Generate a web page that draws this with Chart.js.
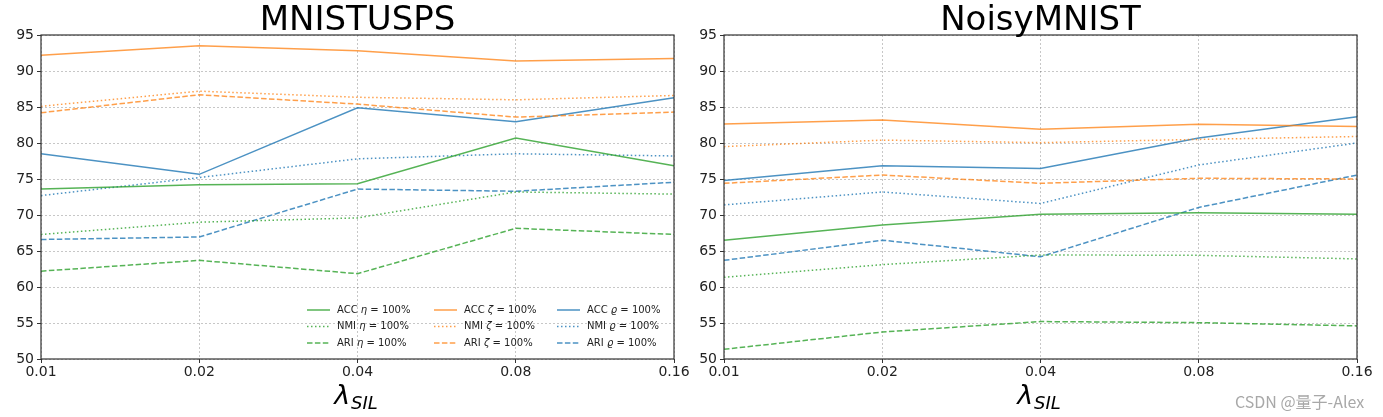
<!DOCTYPE html>
<html>
<head>
<meta charset="utf-8">
<script src="https://cdn.jsdelivr.net/npm/chart.js@4.4.0/dist/chart.umd.min.js"></script>
<style>
  html, body { margin: 0; padding: 0; background: #fff; }
  #wrap { position: relative; width: 1383px; height: 417px; overflow: hidden; }
  .pane { position: absolute; top: 0; height: 417px; }
  #mark { position: absolute; left: 1235px; top: 389px; font: 16px "Noto Sans CJK SC", "DejaVu Sans", sans-serif; color: #a8a8a8; white-space: nowrap; }
</style>
</head>
<body>
<div id="wrap">
  <div class="pane" style="left:0;width:691px"><canvas id="leftChart"></canvas></div>
  <div class="pane" style="left:691px;width:692px"><canvas id="rightChart"></canvas></div>
  <div id="mark">CSDN @量子-Alex</div>
</div>
<script>
/* ---- data ---- */
const lambdas = ['0.01', '0.02', '0.04', '0.08', '0.16'];
const yTicks = [50, 55, 60, 65, 70, 75, 80, 85, 90, 95];

// MNISTUSPS
const uspsAccEta  = [73.6, 74.2, 74.35, 80.7, 76.85];
const uspsNmiEta  = [67.3, 69.0, 69.6, 73.2, 72.9];
const uspsAriEta  = [62.2, 63.7, 61.85, 68.15, 67.3];
const uspsAccZeta = [92.2, 93.5, 92.8, 91.4, 91.75];
const uspsNmiZeta = [85.1, 87.2, 86.35, 86.0, 86.6];
const uspsAriZeta = [84.2, 86.7, 85.4, 83.6, 84.3];
const uspsAccRho  = [78.5, 75.65, 84.9, 82.95, 86.3];
const uspsNmiRho  = [72.7, 75.2, 77.8, 78.5, 78.2];
const uspsAriRho  = [66.6, 66.95, 73.6, 73.3, 74.55];

// NoisyMNIST
const noisyAccEta  = [66.5, 68.6, 70.1, 70.3, 70.1];
const noisyNmiEta  = [61.35, 63.1, 64.45, 64.4, 63.9];
const noisyAriEta  = [51.35, 53.75, 55.2, 55.05, 54.6];
const noisyAccZeta = [82.65, 83.2, 81.9, 82.6, 82.3];
const noisyNmiZeta = [79.5, 80.4, 80.05, 80.5, 80.9];
const noisyAriZeta = [74.4, 75.55, 74.4, 75.1, 75.0];
const noisyAccRho  = [74.8, 76.85, 76.45, 80.7, 83.65];
const noisyNmiRho  = [71.4, 73.2, 71.6, 76.95, 80.0];
const noisyAriRho  = [63.7, 66.5, 64.2, 71.05, 75.55];

const FONT = '"DejaVu Sans", sans-serif';
const GREEN = 'rgba(44,160,44,0.8)';
const ORANGE = 'rgba(255,127,14,0.75)';
const BLUE = 'rgba(31,119,180,0.8)';
const SOLID = [];
const DOTTED = [1.5, 2.5];
const DASHED = [5.5, 2.4];

// legend entries: column = symbol, row = metric
const symbols = [{ ch: 'η', color: GREEN }, { ch: 'ζ', color: ORANGE }, { ch: 'ϱ', color: BLUE }];
const metrics = [{ name: 'ACC', dash: SOLID }, { name: 'NMI', dash: DOTTED }, { name: 'ARI', dash: DASHED }];

function makeSets(rows) {
  // rows: [[acc, nmi, ari] per symbol]
  const sets = [];
  rows.forEach((trip, si) => {
    trip.forEach((data, mi) => {
      sets.push({
        label: `${metrics[mi].name} ${symbols[si].ch} = 100%`,
        data,
        borderColor: symbols[si].color,
        backgroundColor: symbols[si].color,
        borderDash: metrics[mi].dash,
        borderWidth: 1.5,
        pointRadius: 0,
        tension: 0,
        fill: false,
      });
    });
  });
  return sets;
}

/* ---- plugins ---- */
const frameAndTitle = {
  id: 'frameAndTitle',
  afterDraw(chart, args, opts) {
    const { ctx, chartArea: a } = chart;
    ctx.save();
    ctx.strokeStyle = '#333';
    ctx.lineWidth = 1.2;
    ctx.strokeRect(a.left, a.top, a.right - a.left, a.bottom - a.top);

    const cx = (a.left + a.right) / 2;
    ctx.fillStyle = '#000';
    ctx.textAlign = 'center';
    ctx.textBaseline = 'alphabetic';
    ctx.font = `34px ${FONT}`;
    ctx.fillText(opts.text, cx, 30);

    // x axis label: lambda with subscript SIL
    ctx.textAlign = 'left';
    ctx.font = `italic 27px ${FONT}`;
    const wl = ctx.measureText('λ').width;
    ctx.font = `italic 18px ${FONT}`;
    const ws = ctx.measureText('SIL').width;
    const x0 = cx - (wl + ws) / 2 - 2;
    ctx.font = `italic 27px ${FONT}`;
    ctx.fillText('λ', x0, 404);
    ctx.font = `italic 18px ${FONT}`;
    ctx.fillText('SIL', x0 + wl + 1, 409);
    ctx.restore();
  },
};

const innerLegend = {
  id: 'innerLegend',
  afterDatasetsDraw(chart, args, opts) {
    if (!opts.show) return;
    const { ctx, chartArea: a } = chart;
    const colX = [a.right - 367, a.right - 240, a.right - 117];
    const rowY = [a.bottom - 49, a.bottom - 32.5, a.bottom - 16];
    ctx.save();
    ctx.textBaseline = 'middle';
    symbols.forEach((s, c) => {
      metrics.forEach((m, r) => {
        const x = colX[c], y = rowY[r];
        ctx.strokeStyle = s.color;
        ctx.lineWidth = 1.5;
        ctx.setLineDash(m.dash);
        ctx.beginPath();
        ctx.moveTo(x, y);
        ctx.lineTo(x + 23, y);
        ctx.stroke();
        ctx.setLineDash([]);
        ctx.fillStyle = '#222';
        let tx = x + 30;
        ctx.font = `10px ${FONT}`;
        ctx.fillText(m.name + ' ', tx, y);
        tx += ctx.measureText(m.name + ' ').width;
        ctx.font = `italic 10px ${FONT}`;
        ctx.fillText(s.ch, tx, y);
        tx += ctx.measureText(s.ch).width;
        ctx.font = `10px ${FONT}`;
        ctx.fillText(' = 100%', tx, y);
      });
    });
    ctx.restore();
  },
};

function buildChart(id, title, rows, yWidth, padRight, withLegend) {
  return new Chart(document.getElementById(id), {
    type: 'line',
    data: { labels: lambdas, datasets: makeSets(rows) },
    plugins: [frameAndTitle, innerLegend],
    options: {
      responsive: true,
      maintainAspectRatio: false,
      animation: false,
      layout: { padding: { top: 35, right: padRight, left: 0, bottom: 0 } },
      plugins: {
        legend: { display: false },
        tooltip: { enabled: false },
        frameAndTitle: { text: title },
        innerLegend: { show: withLegend },
      },
      scales: {
        x: {
          offset: false,
          afterFit: (s) => { s.height = 58; },
          grid: { color: 'rgba(0,0,0,0.28)', lineWidth: 0.8, tickLength: 4, tickColor: '#333', tickWidth: 1 },
          border: { display: false, dash: [2, 2] },
          ticks: { color: '#222', font: { family: FONT, size: 14 }, padding: 1, maxRotation: 0, autoSkip: false },
        },
        y: {
          min: yTicks[0],
          max: yTicks[yTicks.length - 1],
          afterFit: (s) => { s.width = yWidth; },
          afterBuildTicks: (s) => { s.ticks = yTicks.map((v) => ({ value: v })); },
          grid: { color: 'rgba(0,0,0,0.28)', lineWidth: 0.8, tickLength: 4, tickColor: '#333', tickWidth: 1 },
          border: { display: false, dash: [2, 2] },
          ticks: { color: '#222', font: { family: FONT, size: 14 }, padding: 3 },
        },
      },
    },
  });
}

buildChart('leftChart', 'MNISTUSPS', [
  [uspsAccEta, uspsNmiEta, uspsAriEta],
  [uspsAccZeta, uspsNmiZeta, uspsAriZeta],
  [uspsAccRho, uspsNmiRho, uspsAriRho],
], 41, 17, true);

buildChart('rightChart', 'NoisyMNIST', [
  [noisyAccEta, noisyNmiEta, noisyAriEta],
  [noisyAccZeta, noisyNmiZeta, noisyAriZeta],
  [noisyAccRho, noisyNmiRho, noisyAriRho],
], 33, 26, false);
</script>
</body>
</html>
